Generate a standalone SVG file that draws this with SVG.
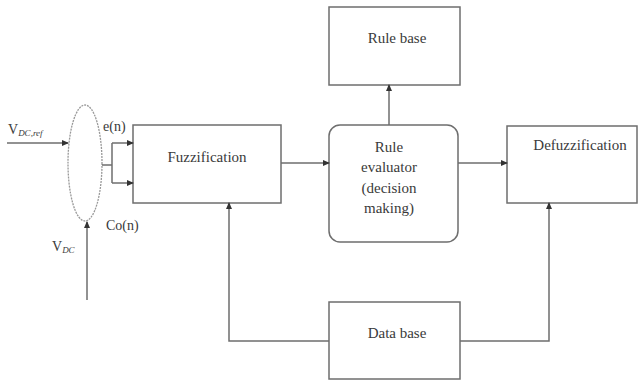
<svg xmlns="http://www.w3.org/2000/svg" width="638" height="381" viewBox="0 0 638 381" font-family="'Liberation Serif', 'Times New Roman', serif">
<style>
.box{fill:#fff;stroke:#6e6e6e;stroke-width:1.5}
.ln{fill:none;stroke:#6e6e6e;stroke-width:1.5}
.t{font-family:'Liberation Serif',serif;font-size:15px;fill:#3a3a3a;text-anchor:middle}
.l{font-family:'Liberation Serif',serif;font-size:14px;fill:#3a3a3a}
.s{font-size:9px;font-style:italic}
</style>
<defs>
<marker id="ah" markerWidth="7" markerHeight="6" refX="6" refY="3" orient="auto" markerUnits="userSpaceOnUse">
<path d="M0,0 L7,3 L0,6 Z" fill="#333"/>
</marker>
</defs>
<rect width="638" height="381" fill="#fff"/>
<g id="sum">
<ellipse cx="85" cy="163" rx="17" ry="58" fill="none" stroke="#999" stroke-width="1.3" stroke-dasharray="2 1"/>
</g>
<g id="fuzzification">
<rect class="box" x="133" y="125" width="148" height="78"/>
<text class="t" x="207" y="162">Fuzzification</text>
</g>
<g id="rulebase">
<rect class="box" x="329" y="7" width="131" height="78"/>
<text class="t" x="397" y="43">Rule base</text>
</g>
<g id="evaluator">
<rect class="box" x="329" y="125" width="129" height="117" rx="11"/>
<text class="t" x="389" y="152">Rule</text>
<text class="t" x="389" y="172">evaluator</text>
<text class="t" x="389" y="193">(decision</text>
<text class="t" x="389" y="213">making)</text>
</g>
<g id="defuzzification">
<rect class="box" x="507" y="126" width="130" height="77"/>
<text class="t" x="580" y="150">Defuzzification</text>
</g>
<g id="database">
<rect class="box" x="329" y="302" width="131" height="77"/>
<text class="t" x="397" y="338">Data base</text>
</g>
<g id="labels">
<text class="l" x="8" y="134">V<tspan class="s" dy="2">DC,ref</tspan></text>
<text class="l" x="103" y="131">e(n)</text>
<text class="l" x="106" y="230">Co(n)</text>
<text class="l" x="52" y="251">V<tspan class="s" dy="2">DC</tspan></text>
</g>
<g id="connectors">
<line class="ln" x1="7" y1="143" x2="68" y2="143" marker-end="url(#ah)"/>
<line class="ln" x1="87" y1="300" x2="87" y2="222" marker-end="url(#ah)"/>
<polyline class="ln" points="102,165 112,165"/>
<line class="ln" x1="112" y1="143" x2="112" y2="183"/>
<line class="ln" x1="112" y1="143" x2="133" y2="143" marker-end="url(#ah)"/>
<line class="ln" x1="112" y1="183" x2="133" y2="183" marker-end="url(#ah)"/>
<line class="ln" x1="281" y1="163" x2="329" y2="163" marker-end="url(#ah)"/>
<line class="ln" x1="389" y1="125" x2="389" y2="85" marker-end="url(#ah)"/>
<line class="ln" x1="458" y1="163" x2="507" y2="163" marker-end="url(#ah)"/>
<polyline class="ln" points="329,341 229,341 229,203" marker-end="url(#ah)"/>
<polyline class="ln" points="460,341 549,341 549,203" marker-end="url(#ah)"/>
</g>
</svg>
